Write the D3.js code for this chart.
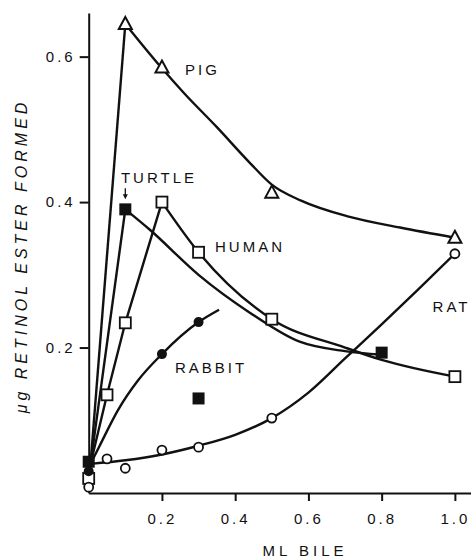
<!DOCTYPE html>
<head>
	<meta charset="utf-8">
	<style>
		body {margin: 0; background: #fff;}
		text {font-family: "Liberation Sans", Arial, sans-serif; fill: #111;}
		.curve {fill: none; stroke: #111; stroke-width: 2.4;}
		.axis path, .axis line {stroke: #111; stroke-width: 2;}
		.axis text {font-size: 15px; letter-spacing: 3px;}
	</style>
	<script src="https://d3js.org/d3.v7.min.js" charset="utf-8"></script>
</head>
<body>
	<script>
		// measured points (ml bile, ug retinol ester)
		var pigX = [0.1, 0.2, 0.5, 1.0];
		var pigY = [0.645, 0.585, 0.413, 0.351];
		var turtleX = [0.0, 0.1, 0.3, 0.8];
		var turtleY = [0.043, 0.39, 0.13, 0.193];
		var humanX = [0.0, 0.05, 0.1, 0.2, 0.3, 0.5, 1.0];
		var humanY = [0.02, 0.135, 0.234, 0.40, 0.331, 0.239, 0.16];
		var rabbitX = [0.0, 0.2, 0.3];
		var rabbitY = [0.03, 0.191, 0.235];
		var ratX = [0.0, 0.05, 0.1, 0.2, 0.3, 0.5, 1.0];
		var ratY = [0.008, 0.047, 0.034, 0.059, 0.063, 0.103, 0.329];

		// hand drawn curves
		var pigRiseX = [0.005, 0.1], pigRiseY = [0.04, 0.645];
		var pigFitX = [0.1, 0.2, 0.26, 0.35, 0.44, 0.5, 0.58, 0.71, 0.85, 1.0];
		var pigFitY = [0.645, 0.584, 0.55, 0.503, 0.454, 0.424, 0.402, 0.38, 0.365, 0.351];
		var turtleRiseX = [0.005, 0.1], turtleRiseY = [0.04, 0.39];
		var turtleFitX = [0.1, 0.167, 0.3, 0.44, 0.576, 0.7, 0.8];
		var turtleFitY = [0.39, 0.362, 0.3, 0.248, 0.208, 0.195, 0.19];
		var humanRiseX = [0.005, 0.05, 0.1, 0.2], humanRiseY = [0.04, 0.135, 0.234, 0.40];
		var humanFitX = [0.2, 0.3, 0.5, 0.7, 0.8, 1.0];
		var humanFitY = [0.40, 0.331, 0.239, 0.2, 0.183, 0.16];
		var rabbitFitX = [0.005, 0.03, 0.08, 0.135, 0.2, 0.3, 0.356];
		var rabbitFitY = [0.04, 0.065, 0.114, 0.155, 0.191, 0.235, 0.252];
		var ratFitX = [0.005, 0.1, 0.2, 0.3, 0.4, 0.5, 0.6, 0.7, 0.8, 0.9, 1.0];
		var ratFitY = [0.04, 0.045, 0.053, 0.065, 0.08, 0.103, 0.138, 0.185, 0.232, 0.28, 0.329];

		var xTicks = [0.2, 0.4, 0.6, 0.8, 1.0];
		var yTicks = [0.2, 0.4, 0.6];

		var labels = [
			{text: "PIG", x: 0.263, y: 0.5745},
			{text: "TURTLE", x: 0.088, y: 0.4266},
			{text: "HUMAN", x: 0.345, y: 0.331},
			{text: "RABBIT", x: 0.2357, y: 0.1644},
			{text: "RAT", x: 0.939, y: 0.2484}
		];

		var width = 471, height = 558;

		var svg = d3.select("body").append("svg")
			.attr("width", width)
			.attr("height", height);

		var x = d3.scaleLinear().domain([0, 1.044]).range([88.7, 471]);
		var y = d3.scaleLinear().domain([0, 0.66]).range([493, 13]);

		function pts(xs, ys) {
			return xs.map(function(d, i) {return [d, ys[i]];});
		}

		var line = d3.line()
			.x(function(d) {return x(d[0]);})
			.y(function(d) {return y(d[1]);});
		var smooth = d3.line()
			.x(function(d) {return x(d[0]);})
			.y(function(d) {return y(d[1]);})
			.curve(d3.curveMonotoneX);

		// axes
		svg.append("g")
			.attr("class", "axis")
			.attr("transform", "translate(0," + y(0) + ")")
			.call(d3.axisBottom(x).tickValues(xTicks).tickFormat(d3.format(".1f"))
				.tickSizeInner(8).tickSizeOuter(0).tickPadding(12));
		svg.append("g")
			.attr("class", "axis")
			.attr("transform", "translate(" + x(0) + ",0)")
			.call(d3.axisLeft(y).tickValues(yTicks).tickFormat(d3.format(".1f"))
				.tickSizeInner(9).tickSizeOuter(0).tickPadding(4));

		// curves
		[[pigRiseX, pigRiseY, line], [pigFitX, pigFitY, smooth],
		 [turtleRiseX, turtleRiseY, line], [turtleFitX, turtleFitY, smooth],
		 [humanRiseX, humanRiseY, line], [humanFitX, humanFitY, smooth],
		 [rabbitFitX, rabbitFitY, smooth], [ratFitX, ratFitY, smooth]
		].forEach(function(c) {
			svg.append("path")
				.attr("class", "curve")
				.attr("d", c[2](pts(c[0], c[1])));
		});

		// markers
		svg.selectAll(".pig").data(pts(pigX, pigY)).enter()
			.append("path")
			.attr("class", "pig")
			.attr("transform", function(d) {return "translate(" + x(d[0]) + "," + y(d[1]) + ")";})
			.attr("d", "M0,-7L6.5,5L-6.5,5Z")
			.attr("fill", "#fff").attr("stroke", "#111").attr("stroke-width", 2);

		svg.selectAll(".human").data(pts(humanX, humanY)).enter()
			.append("rect")
			.attr("class", "human")
			.attr("x", function(d) {return x(d[0]) - 5.5;})
			.attr("y", function(d) {return y(d[1]) - 5.5;})
			.attr("width", 11).attr("height", 11)
			.attr("fill", "#fff").attr("stroke", "#111").attr("stroke-width", 1.8);

		svg.selectAll(".turtle").data(pts(turtleX, turtleY)).enter()
			.append("rect")
			.attr("class", "turtle")
			.attr("x", function(d) {return x(d[0]) - 6;})
			.attr("y", function(d) {return y(d[1]) - 6;})
			.attr("width", 12).attr("height", 12)
			.attr("fill", "#111");

		svg.selectAll(".rabbit").data(pts(rabbitX, rabbitY)).enter()
			.append("circle")
			.attr("class", "rabbit")
			.attr("cx", function(d) {return x(d[0]);})
			.attr("cy", function(d) {return y(d[1]);})
			.attr("r", 5)
			.attr("fill", "#111");

		svg.selectAll(".rat").data(pts(ratX, ratY)).enter()
			.append("circle")
			.attr("class", "rat")
			.attr("cx", function(d) {return x(d[0]);})
			.attr("cy", function(d) {return y(d[1]);})
			.attr("r", 4.5)
			.attr("fill", "#fff").attr("stroke", "#111").attr("stroke-width", 1.8);

		// labels
		svg.selectAll(".lab").data(labels).enter()
			.append("text")
			.attr("class", "lab")
			.attr("x", function(d) {return x(d.x);})
			.attr("y", function(d) {return y(d.y);})
			.attr("font-size", "15px")
			.attr("letter-spacing", "3px")
			.text(function(d) {return d.text;});

		// arrow under TURTLE
		svg.append("line")
			.attr("x1", x(0.1)).attr("x2", x(0.1))
			.attr("y1", y(0.419)).attr("y2", y(0.407))
			.attr("stroke", "#111").attr("stroke-width", 1.3);
		svg.append("path")
			.attr("transform", "translate(" + x(0.1) + "," + y(0.404) + ")")
			.attr("d", "M0,0L-2.5,-5L2.5,-5Z")
			.attr("fill", "#111");

		// axis titles
		svg.append("text")
			.attr("x", 305).attr("y", 556)
			.attr("text-anchor", "middle")
			.attr("font-size", "15px")
			.attr("letter-spacing", "4px")
			.text("ML BILE");
		svg.append("text")
			.attr("transform", "translate(27,256) rotate(-90)")
			.attr("text-anchor", "middle")
			.attr("font-size", "16px")
			.attr("font-style", "italic")
			.attr("letter-spacing", "4px")
			.text("μg RETINOL ESTER FORMED");
	</script>
</body>
</html>
